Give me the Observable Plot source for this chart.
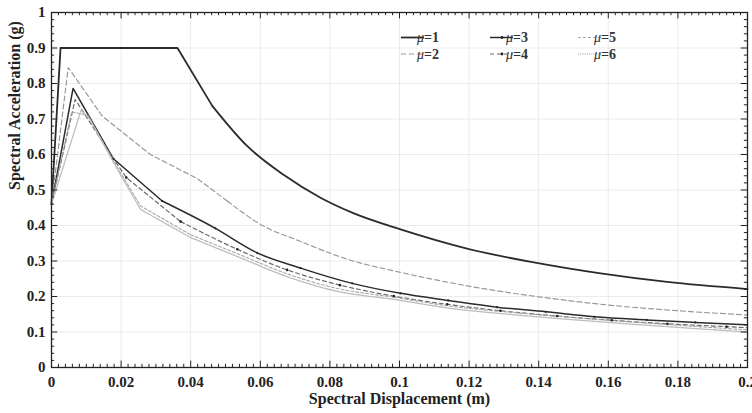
<!DOCTYPE html>
<html><head><meta charset="utf-8">
<script src="https://cdn.jsdelivr.net/npm/d3@7"></script>
<script src="https://cdn.jsdelivr.net/npm/@observablehq/plot@0.6"></script>
<style>
body{margin:0;background:#fff;}
#chart svg{overflow:hidden;}
</style>
</head><body><div id="chart"></div>
<script>
// Tick values
const xTicks = [0, 0.02, 0.04, 0.06, 0.08, 0.1, 0.12, 0.14, 0.16, 0.18, 0.2];
const yTicks = [0, 0.1, 0.2, 0.3, 0.4, 0.5, 0.6, 0.7, 0.8, 0.9, 1];
const xMinor = d3.range(0, 101).map(i => i * 0.002);
const yMinor = d3.range(0, 51).map(i => i * 0.02);

// Series [Sd (m), Sa (g)]
const mu1 = [[0,0.46],[0.0026,0.9],[0.0362,0.9],[0.0462,0.737],[0.0562,0.624],[0.0668,0.542],[0.0773,0.478],[0.0869,0.434],[0.1003,0.389],[0.1194,0.335],[0.1386,0.296],[0.1578,0.265],[0.1769,0.241],[0.2,0.221]];
const mu2 = [[0,0.46],[0.0048,0.845],[0.0146,0.708],[0.0284,0.600],[0.0419,0.532],[0.0505,0.469],[0.0601,0.403],[0.0716,0.355],[0.085,0.305],[0.1003,0.268],[0.1194,0.230],[0.1386,0.201],[0.158,0.178],[0.177,0.162],[0.2,0.148]];
const mu3 = [[0,0.46],[0.0062,0.786],[0.0178,0.588],[0.0318,0.469],[0.0471,0.392],[0.0591,0.323],[0.0716,0.28],[0.0864,0.237],[0.1003,0.209],[0.114,0.189],[0.128,0.170],[0.142,0.157],[0.156,0.143],[0.171,0.134],[0.185,0.127],[0.2,0.120]];
const mu4 = [[0,0.46],[0.0068,0.755],[0.0178,0.588],[0.0215,0.535],[0.0371,0.411],[0.0534,0.333],[0.0677,0.275],[0.0829,0.232],[0.0984,0.201],[0.1137,0.178],[0.129,0.160],[0.1453,0.145],[0.161,0.133],[0.177,0.123],[0.194,0.115],[0.2,0.112]];
const mu5 = [[0,0.46],[0.0058,0.72],[0.0105,0.71],[0.0178,0.582],[0.0256,0.455],[0.04,0.374],[0.0543,0.317],[0.0677,0.264],[0.0802,0.227],[0.1003,0.195],[0.1137,0.174],[0.1348,0.153],[0.16,0.133],[0.18,0.119],[0.2,0.106]];
const mu6 = [[0,0.46],[0.0085,0.725],[0.011,0.70],[0.0178,0.578],[0.0256,0.445],[0.04,0.366],[0.0543,0.309],[0.0677,0.256],[0.0802,0.219],[0.1003,0.189],[0.1137,0.168],[0.1348,0.147],[0.16,0.127],[0.18,0.113],[0.2,0.100]];

const labels = ["1","2","3","4","5","6"];
const smoothFrom = [3, 5, 3, 4, 5, 5];
const styles = [
  {stroke:"#2b2b2b", w:1.8, dash:null},
  {stroke:"#9a9a9a", w:1.2, dash:"5,3"},
  {stroke:"#2b2b2b", w:1.5, dash:null},
  {stroke:"#6a6a6a", w:1.2, dash:"4,3"},
  {stroke:"#a8a8a8", w:1.1, dash:"3,2"},
  {stroke:"#bdbdbd", w:1.4, dash:"1,1.2"}
];
const series = [mu1, mu2, mu3, mu4, mu5, mu6];
const toRows = arr => arr.map(([sd, sa]) => ({sd, sa}));

const font = "'Liberation Serif', 'Times New Roman', serif";
const fmt = d => String(d);

const lineMarks = series.flatMap((s, i) => {
  const st = styles[i], k = smoothFrom[i];
  const opts = {x:"sd", y:"sa", stroke:st.stroke, strokeWidth:st.w, strokeDasharray:st.dash || undefined};
  return [
    Plot.line(toRows(s.slice(0, k + 1)), opts),
    Plot.line(toRows(s.slice(k)), {...opts, curve:"monotone-x"})
  ];
});

const marks = [
  Plot.ruleX(xTicks.slice(1, -1), {stroke:"#e6e6e6", strokeWidth:0.8}),
  Plot.ruleY(yTicks.slice(1, -1), {stroke:"#e6e6e6", strokeWidth:0.8}),
  ...lineMarks,
  Plot.dot(toRows(mu3.slice(2, -1)), {x:"sd", y:"sa", r:1.1, fill:"#222"}),
  Plot.dot(toRows(mu4.slice(3, -1)), {x:"sd", y:"sa", r:1.3, fill:"#222"}),
  // inward minor/major ticks
  Plot.ruleX(xMinor, {y1:0, y2:d => (Math.round(d*1000) % 20 === 0 ? 0.018 : 0.009), stroke:"#222", strokeWidth:1}),
  Plot.ruleX(xMinor, {y1:1, y2:d => (Math.round(d*1000) % 20 === 0 ? 0.982 : 0.991), stroke:"#222", strokeWidth:1}),
  Plot.ruleY(yMinor, {x1:0, x2:d => (Math.round(d*100) % 10 === 0 ? 0.0018 : 0.0009), stroke:"#222", strokeWidth:1}),
  Plot.ruleY(yMinor, {x1:0.2, x2:d => (Math.round(d*100) % 10 === 0 ? 0.1982 : 0.1991), stroke:"#222", strokeWidth:1}),
  Plot.frame({stroke:"#222", strokeWidth:1.3}),
  Plot.axisX(xTicks, {tickSize:0, tickPadding:9, fontSize:15, fontWeight:"bold", label:null, tickFormat:fmt}),
  Plot.axisY(yTicks, {tickSize:0, tickPadding:6, fontSize:15, fontWeight:"bold", label:null, tickFormat:fmt}),
  Plot.text(["Spectral Displacement (m)"], {frameAnchor:"bottom", dy:36, fontSize:16, fontWeight:"bold", fill:"#222"}),
  Plot.text(["Spectral Acceleration (g)"], {frameAnchor:"left", dx:-37, rotate:-90, fontSize:16, fontWeight:"bold", fill:"#222"})
];

const chart = Plot.plot({
  width: 752, height: 413,
  marginLeft: 51, marginRight: 5, marginTop: 12, marginBottom: 46,
  x: {domain:[0, 0.2], ticks: xTicks},
  y: {domain:[0, 1], ticks: yTicks},
  style: {fontFamily: font, color:"#222", background:"#fff", overflow:"hidden"},
  marks
});
document.getElementById("chart").appendChild(chart);

// Legend (inside the frame, upper right)
const svg = d3.select(chart);
const lg = svg.append("g").attr("font-family", font).attr("font-weight", "bold").attr("font-size", 14).attr("fill", "#333");
const cols = [401, 490, 578];
const rowsY = [37.5, 54];
labels.forEach((lab, i) => {
  const col = Math.floor(i / 2), row = i % 2;
  const x0 = cols[col], y0 = rowsY[row], st = styles[i];
  lg.append("line").attr("x1", x0).attr("x2", x0 + 23).attr("y1", y0).attr("y2", y0)
    .attr("stroke", st.stroke).attr("stroke-width", st.w).attr("stroke-dasharray", st.dash);
  if (i === 2 || i === 3) lg.append("circle").attr("cx", x0 + 12).attr("cy", y0).attr("r", 1.4).attr("fill", "#222");
  const t = lg.append("text").attr("x", x0 + 27).attr("y", y0).attr("dy", "0.35em");
  t.append("tspan").attr("font-style", "italic").attr("font-weight", "normal").text("μ");
  t.append("tspan").text("=" + lab);
});
</script>
</body></html>
